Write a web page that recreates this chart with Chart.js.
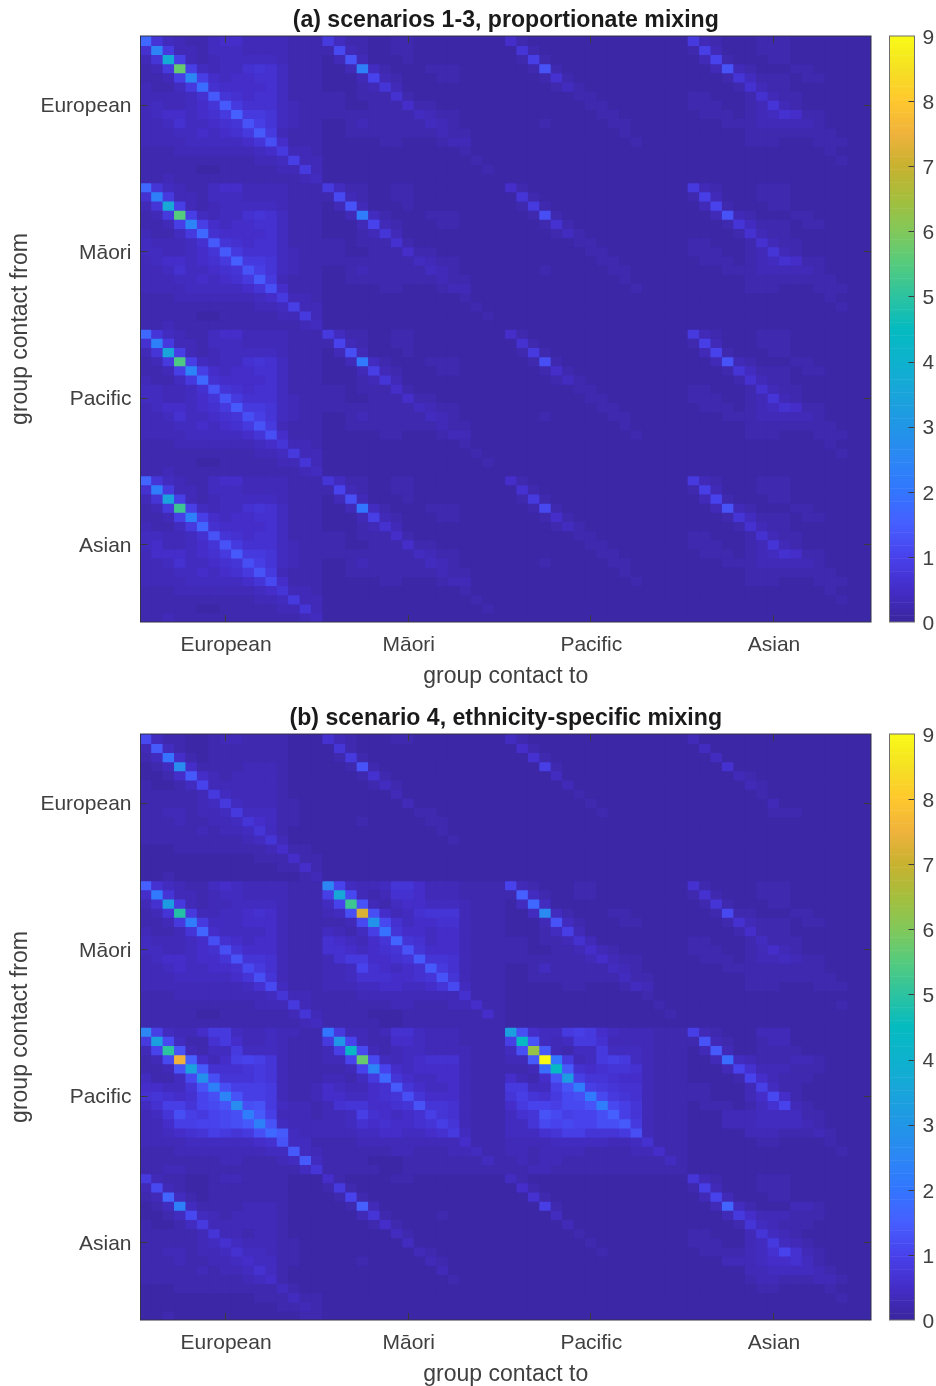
<!DOCTYPE html>
<html>
<head>
<meta charset="utf-8">
<script src="https://cdn.jsdelivr.net/npm/chart.js@4"></script>
<style>
body { margin: 0; background: #fff; }
#page { position: relative; width: 936px; height: 1386px; overflow: hidden; }
.box { position: absolute; }
canvas { filter: blur(0.4px); }
</style>
</head>
<body>
<div id="page">
    <div class="box" style="left:0;top:0;width:880px;height:693px"><canvas id="panelA"></canvas></div>
    <div class="box" style="left:880px;top:0;width:56px;height:693px"><canvas id="barA"></canvas></div>
    <div class="box" style="left:0;top:698px;width:880px;height:693px"><canvas id="panelB"></canvas></div>
    <div class="box" style="left:880px;top:698px;width:56px;height:693px"><canvas id="barB"></canvas></div>
</div>
<script>
var groupLabels = ["European", "Māori", "Pacific", "Asian"];
var groupTicks = [8, 24, 40, 56];
var colorTicks = [0, 1, 2, 3, 4, 5, 6, 7, 8, 9];

// contact rates, in tenths. 64 rows of 64 (4 groups x 16 ages)
var contactsA = [
// European from
[17,7,4,3,2,2,4,5,5,3,3,3,3,2,2,2, 8,4,2,2,1,1,2,2,1,1,1,1,1,1,1,1, 5,2,1,1,1,1,1,1,1,1,1,1,1,1,1,1, 8,3,2,1,1,1,2,2,2,1,1,1,1,1,1,1],
[6,24,8,3,3,2,4,4,4,3,3,3,3,2,2,2, 2,11,3,2,1,1,2,2,1,1,1,1,1,1,1,1, 1,7,2,1,1,1,1,1,1,1,1,1,1,1,1,1, 2,9,3,1,1,1,2,2,2,1,1,1,1,1,1,1],
[3,7,37,9,3,2,3,4,4,4,4,4,3,2,2,2, 1,3,13,3,1,1,1,2,1,1,1,1,1,1,1,1, 1,2,9,2,1,1,1,1,1,1,1,1,1,1,1,1, 1,3,10,2,1,1,1,2,2,1,1,1,1,1,1,1],
[2,3,8,57,9,4,3,4,4,6,7,6,4,2,2,2, 1,1,3,23,4,2,1,1,1,2,2,2,1,1,1,1, 1,1,2,13,2,1,1,1,1,1,1,1,1,1,1,1, 1,1,3,13,3,2,1,1,1,2,2,1,1,1,1,1],
[2,2,3,9,25,9,5,4,5,5,6,6,4,2,2,2, 1,1,1,3,10,3,2,1,1,1,2,2,1,1,1,1, 1,1,1,2,6,2,1,1,1,1,1,1,1,1,1,1, 1,1,1,2,7,4,2,2,2,1,2,2,1,1,1,1],
[3,2,2,4,8,18,6,5,5,5,5,6,4,2,2,2, 1,1,1,2,3,7,3,1,1,1,1,1,1,1,1,1, 1,1,1,1,2,4,2,1,1,1,1,1,1,1,1,1, 1,1,1,1,2,6,3,2,2,1,1,1,1,1,1,1],
[3,3,3,3,4,6,14,7,6,5,6,6,4,2,2,2, 2,2,1,2,2,2,6,2,1,1,1,1,1,1,1,1, 1,1,1,1,1,1,2,2,1,1,1,1,1,1,1,1, 2,2,1,1,1,2,6,3,2,2,1,1,1,1,1,1],
[3,4,3,3,4,5,7,14,8,6,6,6,4,3,2,2, 2,2,1,1,2,2,2,5,2,2,1,1,1,1,1,1, 1,1,1,1,1,1,1,2,2,1,1,1,1,1,1,1, 2,2,2,1,1,2,3,7,3,2,1,1,1,1,1,1],
[3,4,5,5,4,5,6,8,15,8,8,7,4,3,2,2, 2,2,2,2,2,2,2,2,4,3,2,2,1,1,1,1, 1,1,1,1,1,1,1,1,2,2,1,1,1,1,1,1, 1,2,2,2,1,2,3,4,6,5,2,2,1,1,1,1],
[3,3,4,6,4,4,5,6,7,13,9,7,4,3,2,2, 1,1,2,3,2,2,2,2,2,4,3,2,1,1,1,1, 1,1,1,2,1,1,1,1,1,2,2,1,1,1,1,1, 1,1,1,2,2,2,3,3,3,3,3,2,1,1,1,1],
[3,3,3,4,4,5,4,5,6,8,14,8,3,2,2,2, 1,1,2,2,2,2,2,2,2,2,3,2,2,1,1,1, 1,1,1,1,1,1,1,1,1,1,2,1,1,1,1,1, 1,1,1,1,1,2,2,2,2,2,2,2,2,1,1,1],
[3,3,3,3,4,4,4,4,4,5,7,12,5,2,2,2, 1,1,1,1,1,2,2,1,1,1,2,3,3,1,1,1, 1,1,1,1,1,1,1,1,1,1,1,2,1,1,1,1, 1,1,1,1,1,2,2,2,1,1,1,2,2,2,1,1],
[2,2,2,3,3,3,3,3,3,3,4,5,8,3,3,2, 1,1,1,1,1,1,1,1,1,1,1,1,2,1,1,1, 1,1,1,1,1,1,1,1,1,1,1,1,1,1,1,1, 1,1,1,1,1,1,1,1,1,1,1,1,2,1,1,1],
[2,2,2,2,2,2,2,2,2,2,3,3,4,9,3,3, 1,1,1,1,1,1,1,1,1,1,1,1,1,2,1,1, 1,1,1,1,1,1,1,1,1,1,1,1,1,1,1,1, 1,1,1,1,1,1,1,1,1,1,1,1,1,2,1,1],
[2,2,2,2,2,1,1,2,2,2,2,2,3,3,8,3, 1,1,1,1,1,1,1,1,1,1,1,1,1,1,2,1, 1,1,1,1,1,1,1,1,1,1,1,1,1,1,1,1, 1,1,1,1,1,1,1,1,1,1,1,1,1,1,1,1],
[2,2,3,2,2,2,2,2,2,2,2,2,2,2,3,4, 1,1,1,1,1,1,1,1,1,1,1,1,1,1,1,1, 1,1,1,1,1,1,1,1,1,1,1,1,1,1,1,1, 1,1,1,1,1,1,1,1,1,1,1,1,1,1,1,1],
// Maori from
[17,7,4,3,2,2,4,5,5,3,3,3,3,2,2,2, 8,4,2,2,1,1,2,2,1,1,1,1,1,1,1,1, 5,2,1,1,1,1,1,1,1,1,1,1,1,1,1,1, 8,3,2,1,1,1,2,2,2,1,1,1,1,1,1,1],
[6,23,8,3,3,2,4,4,4,3,3,3,3,2,2,2, 2,11,3,2,1,1,2,2,1,1,1,1,1,1,1,1, 1,7,2,1,1,1,1,1,1,1,1,1,1,1,1,1, 2,9,3,1,1,1,2,2,2,1,1,1,1,1,1,1],
[3,7,36,9,3,2,3,4,4,4,4,4,3,2,2,2, 1,3,13,3,1,1,1,2,1,1,1,1,1,1,1,1, 1,2,8,2,1,1,1,1,1,1,1,1,1,1,1,1, 1,3,10,2,1,1,1,2,2,1,1,1,1,1,1,1],
[2,3,8,55,9,4,3,4,4,6,7,6,4,2,2,2, 1,1,3,22,4,2,1,1,1,2,2,2,1,1,1,1, 1,1,2,12,2,1,1,1,1,1,1,1,1,1,1,1, 1,1,3,13,3,2,1,1,1,2,2,1,1,1,1,1],
[2,2,3,9,24,9,5,4,5,5,6,6,4,2,2,2, 1,1,1,3,10,3,2,1,1,1,2,2,1,1,1,1, 1,1,1,2,6,2,1,1,1,1,1,1,1,1,1,1, 1,1,1,2,7,4,2,2,2,1,2,2,1,1,1,1],
[3,2,2,4,8,17,6,5,5,5,5,6,4,2,2,2, 1,1,1,2,3,7,3,1,1,1,1,1,1,1,1,1, 1,1,1,1,2,4,2,1,1,1,1,1,1,1,1,1, 1,1,1,1,2,6,3,2,2,1,1,1,1,1,1,1],
[4,3,3,3,4,6,14,7,6,5,6,6,4,2,2,2, 2,2,1,2,2,2,6,2,1,1,1,1,1,1,1,1, 1,1,1,1,1,1,2,2,1,1,1,1,1,1,1,1, 2,2,1,1,1,2,6,3,2,2,1,1,1,1,1,1],
[4,4,3,3,4,5,7,14,8,6,6,6,4,3,2,2, 2,2,1,1,2,2,2,5,2,2,1,1,1,1,1,1, 1,1,1,1,1,1,1,2,2,1,1,1,1,1,1,1, 2,2,2,1,1,2,3,7,3,2,1,1,1,1,1,1],
[3,4,5,5,4,5,6,8,15,8,8,7,4,3,2,2, 2,2,2,2,2,2,2,2,4,3,2,2,1,1,1,1, 1,1,1,1,1,1,1,1,2,2,1,1,1,1,1,1, 1,2,2,2,1,2,3,4,6,5,2,2,1,1,1,1],
[3,3,4,6,4,4,5,6,7,13,9,7,4,3,2,2, 1,1,2,3,2,2,2,2,2,4,3,2,1,1,1,1, 1,1,1,2,1,1,1,1,1,2,2,1,1,1,1,1, 1,1,1,2,2,2,3,3,3,3,3,2,1,1,1,1],
[3,3,3,4,4,5,4,5,6,8,14,8,3,2,2,2, 1,1,2,2,2,2,2,2,2,2,3,2,2,1,1,1, 1,1,1,1,1,1,1,1,1,1,2,1,1,1,1,1, 1,1,1,1,1,2,2,2,2,2,2,2,2,1,1,1],
[3,3,3,3,4,4,4,4,4,5,7,12,5,2,2,2, 1,1,1,1,1,2,2,1,1,1,2,3,3,1,1,1, 1,1,1,1,1,1,1,1,1,1,1,2,1,1,1,1, 1,1,1,1,1,2,2,2,1,1,1,2,2,2,1,1],
[2,2,2,3,3,3,3,3,3,3,4,5,8,3,3,2, 1,1,1,1,1,1,1,1,1,1,1,1,2,1,1,1, 1,1,1,1,1,1,1,1,1,1,1,1,1,1,1,1, 1,1,1,1,1,1,1,1,1,1,1,1,2,1,1,1],
[2,2,2,2,2,2,2,2,2,2,3,3,4,9,3,3, 1,1,1,1,1,1,1,1,1,1,1,1,1,2,1,1, 1,1,1,1,1,1,1,1,1,1,1,1,1,1,1,1, 1,1,1,1,1,1,1,1,1,1,1,1,1,2,1,1],
[2,2,2,2,2,1,1,2,2,2,2,2,3,3,8,3, 1,1,1,1,1,1,1,1,1,1,1,1,1,1,2,1, 1,1,1,1,1,1,1,1,1,1,1,1,1,1,1,1, 1,1,1,1,1,1,1,1,1,1,1,1,1,1,1,1],
[2,2,3,2,2,2,2,2,2,2,2,2,2,2,3,4, 1,1,1,1,1,1,1,1,1,1,1,1,1,1,1,1, 1,1,1,1,1,1,1,1,1,1,1,1,1,1,1,1, 1,1,1,1,1,1,1,1,1,1,1,1,1,1,1,1],
// Pacific from
[17,7,4,3,2,2,4,5,5,3,3,3,3,2,2,2, 8,4,2,2,1,1,2,2,1,1,1,1,1,1,1,1, 5,2,1,1,1,1,1,1,1,1,1,1,1,1,1,1, 8,3,2,1,1,1,2,2,2,1,1,1,1,1,1,1],
[6,23,8,3,3,2,4,4,4,3,3,3,3,2,2,2, 2,10,3,2,1,1,2,2,1,1,1,1,1,1,1,1, 1,6,2,1,1,1,1,1,1,1,1,1,1,1,1,1, 2,9,3,1,1,1,2,2,2,1,1,1,1,1,1,1],
[3,7,35,9,3,2,3,4,4,4,4,4,3,2,2,2, 1,3,12,3,1,1,1,2,1,1,1,1,1,1,1,1, 1,2,8,2,1,1,1,1,1,1,1,1,1,1,1,1, 1,3,10,2,1,1,1,2,2,1,1,1,1,1,1,1],
[2,3,8,54,9,4,3,4,4,6,7,6,4,2,2,2, 1,1,3,21,4,2,1,1,1,2,2,2,1,1,1,1, 1,1,2,12,2,1,1,1,1,1,1,1,1,1,1,1, 1,1,3,13,3,2,1,1,1,2,2,1,1,1,1,1],
[2,2,3,9,24,9,5,4,5,5,6,6,4,2,2,2, 1,1,1,3,9,3,2,1,1,1,2,2,1,1,1,1, 1,1,1,2,5,2,1,1,1,1,1,1,1,1,1,1, 1,1,1,2,7,4,2,2,2,1,2,2,1,1,1,1],
[3,2,2,4,8,17,6,5,5,5,5,6,4,2,2,2, 1,1,1,2,3,7,3,1,1,1,1,1,1,1,1,1, 1,1,1,1,2,4,2,1,1,1,1,1,1,1,1,1, 1,1,1,1,2,6,3,2,2,1,1,1,1,1,1,1],
[4,4,3,3,4,6,13,7,6,5,6,6,4,2,2,2, 2,2,1,2,2,2,5,2,1,1,1,1,1,1,1,1, 1,1,1,1,1,1,2,2,1,1,1,1,1,1,1,1, 2,2,1,1,1,2,6,3,2,2,1,1,1,1,1,1],
[4,4,3,3,4,5,7,13,8,6,6,6,4,3,2,2, 2,2,1,1,2,2,2,5,2,2,1,1,1,1,1,1, 1,1,1,1,1,1,1,2,2,1,1,1,1,1,1,1, 2,2,2,1,1,2,3,7,3,2,1,1,1,1,1,1],
[3,4,5,5,4,5,6,8,14,8,8,7,4,3,2,2, 2,2,2,2,2,2,2,2,4,3,2,2,1,1,1,1, 1,1,1,1,1,1,1,1,2,2,1,1,1,1,1,1, 1,2,2,2,1,2,3,4,6,5,2,2,1,1,1,1],
[3,3,4,6,4,4,5,6,7,12,9,7,4,3,2,2, 1,1,2,3,2,2,2,2,2,4,3,2,1,1,1,1, 1,1,1,2,1,1,1,1,1,2,2,1,1,1,1,1, 1,1,1,2,2,2,3,3,3,3,3,2,1,1,1,1],
[3,3,3,4,4,5,4,5,6,8,13,8,3,2,2,2, 1,1,2,2,2,2,2,2,2,2,3,2,2,1,1,1, 1,1,1,1,1,1,1,1,1,1,2,1,1,1,1,1, 1,1,1,1,1,2,2,2,2,2,2,2,2,1,1,1],
[3,3,3,3,4,4,4,4,4,5,7,12,5,2,2,2, 1,1,1,1,1,2,2,1,1,1,2,3,3,1,1,1, 1,1,1,1,1,1,1,1,1,1,1,2,1,1,1,1, 1,1,1,1,1,2,2,2,1,1,1,2,2,2,1,1],
[2,2,2,3,3,3,3,3,3,3,4,5,7,3,3,2, 1,1,1,1,1,1,1,1,1,1,1,1,2,1,1,1, 1,1,1,1,1,1,1,1,1,1,1,1,1,1,1,1, 1,1,1,1,1,1,1,1,1,1,1,1,2,1,1,1],
[2,2,2,2,2,2,2,2,2,2,3,3,4,8,3,3, 1,1,1,1,1,1,1,1,1,1,1,1,1,2,1,1, 1,1,1,1,1,1,1,1,1,1,1,1,1,1,1,1, 1,1,1,1,1,1,1,1,1,1,1,1,1,2,1,1],
[2,2,2,2,2,1,1,2,2,2,2,2,3,3,7,3, 1,1,1,1,1,1,1,1,1,1,1,1,1,1,2,1, 1,1,1,1,1,1,1,1,1,1,1,1,1,1,1,1, 1,1,1,1,1,1,1,1,1,1,1,1,1,1,1,1],
[2,2,3,2,2,2,2,2,2,2,2,2,2,2,3,4, 1,1,1,1,1,1,1,1,1,1,1,1,1,1,1,1, 1,1,1,1,1,1,1,1,1,1,1,1,1,1,1,1, 1,1,1,1,1,1,1,1,1,1,1,1,1,1,1,1],
// Asian from
[16,7,4,3,2,2,4,5,5,3,3,3,3,2,2,2, 7,4,2,2,1,1,2,2,1,1,1,1,1,1,1,1, 5,2,1,1,1,1,1,1,1,1,1,1,1,1,1,1, 8,3,2,1,1,1,2,2,2,1,1,1,1,1,1,1],
[6,22,8,3,3,2,4,4,4,3,3,3,3,2,2,2, 2,10,3,2,1,1,2,2,1,1,1,1,1,1,1,1, 1,6,2,1,1,1,1,1,1,1,1,1,1,1,1,1, 2,9,3,1,1,1,2,2,2,1,1,1,1,1,1,1],
[3,7,34,9,3,2,3,4,4,4,4,4,3,2,2,2, 1,3,12,3,1,1,1,2,1,1,1,1,1,1,1,1, 1,2,8,2,1,1,1,1,1,1,1,1,1,1,1,1, 1,3,10,2,1,1,1,2,2,1,1,1,1,1,1,1],
[2,3,8,52,9,4,3,4,4,6,7,6,4,2,2,2, 1,1,3,20,4,2,1,1,1,2,2,2,1,1,1,1, 1,1,2,11,2,1,1,1,1,1,1,1,1,1,1,1, 1,1,3,13,3,2,1,1,1,2,2,1,1,1,1,1],
[2,2,3,9,23,9,5,4,5,5,6,6,4,2,2,2, 1,1,1,3,9,3,2,1,1,1,2,2,1,1,1,1, 1,1,1,2,5,2,1,1,1,1,1,1,1,1,1,1, 1,1,1,2,7,4,2,2,2,1,2,2,1,1,1,1],
[3,2,2,4,8,16,6,5,5,5,5,6,4,2,2,2, 1,1,1,2,3,6,3,1,1,1,1,1,1,1,1,1, 1,1,1,1,2,4,2,1,1,1,1,1,1,1,1,1, 1,1,1,1,2,6,3,2,2,1,1,1,1,1,1,1],
[4,4,3,3,4,6,13,7,6,5,6,6,4,2,2,2, 2,2,1,2,2,2,5,2,1,1,1,1,1,1,1,1, 1,1,1,1,1,1,2,2,1,1,1,1,1,1,1,1, 2,2,1,1,1,2,6,3,2,2,1,1,1,1,1,1],
[4,5,3,3,4,5,7,13,8,6,6,6,4,3,2,2, 2,2,1,1,2,2,2,5,2,2,1,1,1,1,1,1, 1,1,1,1,1,1,1,2,2,1,1,1,1,1,1,1, 2,2,2,1,1,2,3,7,3,2,1,1,1,1,1,1],
[3,5,5,5,4,5,6,8,14,8,8,7,4,3,2,2, 2,2,2,2,2,2,2,2,4,3,2,2,1,1,1,1, 1,1,1,1,1,1,1,1,2,2,1,1,1,1,1,1, 1,2,2,2,1,2,3,4,6,5,2,2,1,1,1,1],
[3,3,4,6,4,4,5,6,7,12,9,7,4,3,2,2, 1,1,2,3,2,2,2,2,2,4,3,2,1,1,1,1, 1,1,1,2,1,1,1,1,1,2,2,1,1,1,1,1, 1,1,1,2,2,2,3,3,3,3,3,2,1,1,1,1],
[3,3,3,4,4,5,4,5,6,8,13,8,3,2,2,2, 1,1,2,2,2,2,2,2,2,2,3,2,2,1,1,1, 1,1,1,1,1,1,1,1,1,1,2,1,1,1,1,1, 1,1,1,1,1,2,2,2,2,2,2,2,2,1,1,1],
[3,3,3,3,4,4,4,4,4,5,7,11,5,2,2,2, 1,1,1,1,1,2,2,1,1,1,2,3,3,1,1,1, 1,1,1,1,1,1,1,1,1,1,1,2,1,1,1,1, 1,1,1,1,1,2,2,2,1,1,1,2,2,2,1,1],
[2,2,2,3,3,3,3,3,3,3,4,5,7,3,3,2, 1,1,1,1,1,1,1,1,1,1,1,1,2,1,1,1, 1,1,1,1,1,1,1,1,1,1,1,1,1,1,1,1, 1,1,1,1,1,1,1,1,1,1,1,1,2,1,1,1],
[2,2,2,2,2,2,2,2,2,2,3,3,4,8,3,3, 1,1,1,1,1,1,1,1,1,1,1,1,1,2,1,1, 1,1,1,1,1,1,1,1,1,1,1,1,1,1,1,1, 1,1,1,1,1,1,1,1,1,1,1,1,1,2,1,1],
[2,2,2,2,2,1,1,2,2,2,2,2,3,3,7,3, 1,1,1,1,1,1,1,1,1,1,1,1,1,1,2,1, 1,1,1,1,1,1,1,1,1,1,1,1,1,1,1,1, 1,1,1,1,1,1,1,1,1,1,1,1,1,1,1,1],
[2,2,3,2,2,2,2,2,2,2,2,2,2,2,3,4, 1,1,1,1,1,1,1,1,1,1,1,1,1,1,1,1, 1,1,1,1,1,1,1,1,1,1,1,1,1,1,1,1, 1,1,1,1,1,1,1,1,1,1,1,1,1,1,1,1]
];

var contactsB = [
// European from
[11,4,2,2,1,1,2,3,3,2,2,2,2,1,1,1, 6,3,2,1,1,1,2,2,1,1,1,1,1,1,1,1, 4,2,1,1,1,1,1,1,1,1,1,1,1,1,1,1, 3,1,1,1,1,1,1,1,1,1,1,1,1,1,1,1],
[3,14,4,2,1,1,2,2,2,2,2,2,2,1,1,1, 1,7,2,1,1,1,1,1,1,1,1,1,1,1,1,1, 1,5,2,1,1,1,1,1,1,1,1,1,1,1,1,1, 1,4,1,1,1,1,1,1,1,1,1,1,1,1,1,1],
[2,4,19,5,2,1,2,2,2,2,2,2,2,1,1,1, 1,2,8,2,1,1,1,1,1,1,1,1,1,1,1,1, 1,1,6,2,1,1,1,1,1,1,1,1,1,1,1,1, 1,1,4,1,1,1,1,1,1,1,1,1,1,1,1,1],
[1,2,4,27,5,2,2,2,2,3,3,3,2,1,1,1, 1,1,2,13,2,1,1,1,1,1,1,1,1,1,1,1, 1,1,1,9,2,1,1,1,1,1,1,1,1,1,1,1, 1,1,1,6,1,1,1,1,1,1,1,1,1,1,1,1],
[1,1,2,5,14,5,3,2,3,3,3,3,2,1,1,1, 1,1,1,2,6,2,1,1,1,1,1,1,1,1,1,1, 1,1,1,1,4,1,1,1,1,1,1,1,1,1,1,1, 1,1,1,1,3,2,1,1,1,1,1,1,1,1,1,1],
[2,1,1,2,4,10,3,3,3,3,3,3,2,1,1,1, 1,1,1,1,2,4,2,1,1,1,1,1,1,1,1,1, 1,1,1,1,1,3,1,1,1,1,1,1,1,1,1,1, 1,1,1,1,1,3,2,1,1,1,1,1,1,1,1,1],
[2,2,2,2,2,3,8,4,3,3,3,3,2,1,1,1, 1,1,1,1,1,1,3,1,1,1,1,1,1,1,1,1, 1,1,1,1,1,1,2,1,1,1,1,1,1,1,1,1, 1,1,1,1,1,1,2,1,1,1,1,1,1,1,1,1],
[2,2,2,2,2,3,4,8,4,3,3,3,2,2,1,1, 1,1,1,1,1,1,1,3,1,1,1,1,1,1,1,1, 1,1,1,1,1,1,1,2,1,1,1,1,1,1,1,1, 1,1,1,1,1,1,1,3,1,1,1,1,1,1,1,1],
[2,2,3,3,2,3,3,4,8,4,4,4,2,2,1,1, 1,1,1,1,1,1,1,1,2,2,1,1,1,1,1,1, 1,1,1,1,1,1,1,1,2,1,1,1,1,1,1,1, 1,1,1,1,1,1,1,2,2,2,1,1,1,1,1,1],
[2,2,2,3,2,2,3,3,4,7,5,4,2,2,1,1, 1,1,1,2,1,1,1,1,1,2,2,1,1,1,1,1, 1,1,1,1,1,1,1,1,1,1,1,1,1,1,1,1, 1,1,1,1,1,1,1,1,1,1,1,1,1,1,1,1],
[2,2,2,2,2,3,2,3,3,4,7,4,2,1,1,1, 1,1,1,1,1,1,1,1,1,1,2,1,1,1,1,1, 1,1,1,1,1,1,1,1,1,1,1,1,1,1,1,1, 1,1,1,1,1,1,1,1,1,1,1,1,1,1,1,1],
[2,2,2,2,2,2,2,2,2,3,4,7,3,1,1,1, 1,1,1,1,1,1,1,1,1,1,1,2,1,1,1,1, 1,1,1,1,1,1,1,1,1,1,1,1,1,1,1,1, 1,1,1,1,1,1,1,1,1,1,1,1,1,1,1,1],
[1,1,1,2,2,2,2,2,2,2,2,3,5,2,2,1, 1,1,1,1,1,1,1,1,1,1,1,1,1,1,1,1, 1,1,1,1,1,1,1,1,1,1,1,1,1,1,1,1, 1,1,1,1,1,1,1,1,1,1,1,1,1,1,1,1],
[1,1,1,1,1,1,1,1,1,1,2,2,2,5,2,2, 1,1,1,1,1,1,1,1,1,1,1,1,1,1,1,1, 1,1,1,1,1,1,1,1,1,1,1,1,1,1,1,1, 1,1,1,1,1,1,1,1,1,1,1,1,1,1,1,1],
[1,1,1,1,1,1,1,1,1,1,1,1,2,2,5,2, 1,1,1,1,1,1,1,1,1,1,1,1,1,1,1,1, 1,1,1,1,1,1,1,1,1,1,1,1,1,1,1,1, 1,1,1,1,1,1,1,1,1,1,1,1,1,1,1,1],
[1,1,2,1,1,1,1,1,1,1,1,1,1,1,2,3, 1,1,1,1,1,1,1,1,1,1,1,1,1,1,1,1, 1,1,1,1,1,1,1,1,1,1,1,1,1,1,1,1, 1,1,1,1,1,1,1,1,1,1,1,1,1,1,1,1],
// Maori from
[15,6,4,3,2,2,4,5,4,3,3,3,3,2,2,2, 25,10,4,3,3,4,7,7,5,3,3,3,2,2,2,2, 10,3,2,1,1,1,2,2,1,1,1,1,1,1,1,1, 6,2,1,1,1,1,2,2,2,1,1,1,1,1,1,1],
[5,21,7,3,3,2,3,4,4,3,3,3,3,2,2,2, 9,36,11,3,2,3,6,6,5,3,3,3,2,2,2,2, 2,15,4,2,1,1,2,2,1,1,1,1,1,1,1,1, 2,6,2,1,1,1,2,2,2,1,1,1,1,1,1,1],
[3,6,32,8,3,2,3,3,4,4,4,4,3,2,2,2, 4,10,52,13,3,2,4,5,5,4,4,4,3,2,2,2, 1,4,17,4,1,1,1,1,1,1,1,1,1,1,1,1, 1,2,7,2,1,1,1,2,2,1,1,1,1,1,1,1],
[2,3,7,49,8,3,3,4,4,5,6,5,3,2,2,2, 3,4,12,72,12,5,3,4,6,7,7,7,3,2,2,2, 1,1,4,26,4,2,1,1,1,2,2,1,1,1,1,1, 1,1,2,11,2,2,1,1,1,2,2,1,1,1,1,1],
[2,2,3,8,22,8,4,4,4,5,5,5,3,2,2,2, 2,2,3,11,29,11,6,4,5,5,6,6,3,2,2,2, 1,1,1,3,13,4,2,1,1,1,2,2,1,1,1,1, 1,1,1,2,6,3,2,2,2,1,2,2,1,1,1,1],
[3,2,2,3,7,16,5,4,4,4,4,5,3,2,2,2, 4,3,2,4,9,19,7,5,5,4,5,5,3,2,2,2, 1,1,1,2,4,9,3,1,1,1,1,1,1,1,1,1, 1,1,1,1,2,5,2,2,2,1,1,1,1,1,1,1],
[4,3,3,3,4,5,12,6,5,4,5,5,3,2,2,2, 6,5,4,3,5,7,16,7,6,4,5,5,3,2,2,2, 2,2,1,2,2,3,6,3,1,1,1,1,1,1,1,1, 2,2,1,1,1,2,4,2,2,2,1,1,1,1,1,1],
[4,4,3,3,4,5,6,12,7,5,5,5,3,2,2,2, 6,6,5,4,5,6,7,13,7,5,5,5,3,2,2,2, 2,2,1,1,2,2,3,5,3,2,1,1,1,1,1,1, 2,2,2,1,1,2,3,5,3,2,1,1,1,1,1,1],
[3,4,5,5,4,5,5,7,13,7,7,6,3,2,2,2, 3,6,8,8,5,5,6,7,14,7,7,6,3,2,2,2, 2,2,2,2,2,2,2,3,5,3,2,2,1,1,1,1, 1,2,2,2,1,2,3,3,4,3,2,2,1,1,1,1],
[3,3,4,5,4,4,5,5,6,11,8,6,3,2,2,2, 3,3,4,10,6,5,4,5,6,14,8,6,3,2,2,2, 1,1,2,4,2,2,2,2,2,4,3,2,1,1,1,1, 1,1,1,2,2,2,2,2,2,2,2,2,1,1,1,1],
[3,3,3,4,4,4,4,4,5,7,12,7,3,2,2,2, 3,3,4,6,6,6,5,5,6,7,13,7,3,2,2,2, 1,1,2,2,2,2,2,2,2,2,4,2,2,1,1,1, 1,1,1,1,1,2,2,2,2,2,2,2,2,1,1,1],
[3,3,3,3,3,3,3,3,3,4,6,11,4,2,2,2, 3,3,3,4,4,5,5,4,4,5,7,11,4,2,2,2, 1,1,1,1,1,2,2,1,1,1,2,4,3,1,1,1, 1,1,1,1,1,2,2,2,1,1,1,2,2,2,1,1],
[2,2,2,3,3,3,3,3,3,3,3,4,7,3,3,2, 2,2,2,3,3,3,3,3,3,3,3,3,6,2,2,2, 1,1,1,1,1,1,1,1,1,1,1,1,2,1,1,1, 1,1,1,1,1,1,1,1,1,1,1,1,1,1,1,1],
[2,2,2,2,2,2,2,2,2,2,3,3,3,8,3,2, 2,2,2,2,2,2,3,3,2,2,2,3,3,5,2,2, 1,1,1,1,1,1,1,1,1,1,1,1,1,2,1,1, 1,1,1,1,1,1,1,1,1,1,1,1,1,2,1,1],
[2,2,2,2,2,1,1,2,2,2,2,2,2,3,7,3, 2,2,2,2,1,1,1,2,2,2,2,2,2,2,5,2, 1,1,1,1,1,1,1,1,1,1,1,1,1,1,2,1, 1,1,1,1,1,1,1,1,1,1,1,1,1,1,1,1],
[2,2,2,2,2,2,2,2,2,2,2,2,2,2,3,4, 2,2,2,2,2,1,1,2,2,2,2,2,2,2,2,2, 1,1,1,1,1,1,1,1,1,1,1,1,1,1,1,1, 1,1,1,1,1,1,1,1,1,1,1,1,1,1,1,1],
// Pacific from
[25,9,4,3,3,5,8,8,4,3,3,4,3,3,2,2, 20,8,3,3,2,3,6,6,4,3,3,3,2,2,2,2, 33,12,5,4,4,8,9,8,5,4,3,3,3,2,2,2, 9,3,2,1,1,1,3,3,3,1,1,1,1,1,1,1],
[8,33,11,4,2,2,6,8,5,3,3,4,3,2,2,2, 8,30,10,3,2,2,5,5,4,3,3,3,2,2,2,2, 9,44,13,4,3,4,8,8,6,3,3,3,3,2,2,2, 2,13,3,2,1,1,2,3,3,1,1,1,1,1,1,1],
[3,10,50,13,3,2,4,4,8,4,4,4,3,2,2,2, 3,9,43,11,3,2,3,4,4,3,3,3,3,2,2,2, 4,12,63,14,3,2,4,4,8,4,4,4,3,2,2,2, 1,3,14,3,1,1,2,2,2,2,1,1,1,1,1,1],
[2,3,11,75,15,5,3,5,9,10,9,7,3,2,2,2, 3,3,10,57,11,4,3,4,5,6,6,6,3,2,2,2, 3,3,14,90,20,8,3,4,8,9,8,4,3,2,2,2, 1,1,3,18,4,3,2,2,2,3,3,2,1,1,1,1],
[2,2,3,13,34,14,6,6,6,7,8,7,3,2,2,2, 2,2,3,10,24,10,5,4,5,5,5,5,3,2,2,2, 2,2,3,18,44,14,6,5,6,7,7,6,3,2,2,2, 1,1,1,3,10,6,3,3,3,2,2,2,1,1,1,1],
[4,2,2,4,11,28,12,7,7,7,8,7,3,2,2,2, 3,3,2,4,8,17,7,5,4,4,5,5,3,2,2,2, 5,3,2,5,13,32,9,7,7,6,5,5,3,2,2,2, 1,1,1,1,2,10,5,3,2,2,2,1,1,1,1,1],
[5,5,4,4,7,13,23,12,9,9,9,8,3,2,2,3, 5,4,3,3,5,6,14,7,5,4,4,5,3,2,2,2, 8,8,4,4,9,13,22,9,8,7,6,6,3,2,2,2, 2,2,1,1,1,3,9,4,2,2,1,1,1,1,1,1],
[6,7,6,5,6,10,12,24,13,9,9,8,3,2,2,3, 5,5,4,4,5,6,7,12,7,5,5,5,3,2,2,2, 7,9,7,6,8,11,12,21,11,8,7,6,3,2,2,2, 2,2,1,1,1,3,5,11,5,2,1,1,1,1,1,1],
[4,6,9,9,7,10,11,13,27,12,13,8,4,3,3,2, 3,6,7,7,5,5,6,7,13,7,7,6,3,2,2,2, 5,8,10,10,9,11,11,13,22,11,9,7,3,2,2,2, 1,2,2,2,1,2,4,6,10,3,2,1,1,1,1,1],
[3,4,7,12,9,8,10,11,12,22,14,9,3,3,3,2, 3,3,4,9,6,5,4,5,6,9,7,6,3,2,2,2, 4,6,7,13,11,9,10,10,12,15,9,7,3,2,2,2, 1,1,1,3,3,3,4,4,4,4,2,2,1,1,1,1],
[3,3,5,9,9,10,10,11,12,14,23,13,4,3,3,3, 3,3,4,6,5,6,5,5,6,7,9,7,3,2,2,2, 4,4,7,11,10,11,10,10,12,12,14,8,3,2,2,2, 1,1,1,3,3,3,4,4,4,4,3,2,1,1,1,1],
[3,3,4,5,6,7,9,8,7,8,12,17,14,4,3,3, 3,3,3,4,4,5,5,4,4,5,6,8,4,2,2,2, 4,4,4,6,7,9,9,7,7,7,8,12,3,2,2,2, 1,1,1,1,1,3,3,3,2,2,2,3,2,1,1,1],
[3,3,3,3,4,4,4,4,4,4,5,6,13,4,4,2, 2,2,2,3,3,3,3,3,3,3,3,3,5,2,2,2, 3,3,3,3,4,4,4,4,4,3,3,4,6,2,2,2, 1,1,1,1,1,1,2,2,1,1,1,1,2,1,1,1],
[2,2,2,3,3,3,3,3,3,3,3,4,4,14,4,3, 2,2,2,2,2,2,3,3,2,2,2,3,3,4,2,2, 3,3,2,3,3,3,3,2,2,2,2,3,3,5,2,2, 1,1,1,1,1,1,1,1,1,1,1,1,1,2,1,1],
[2,2,2,2,2,2,2,3,3,2,2,2,3,4,14,4, 2,2,2,2,1,1,1,2,2,2,2,2,2,2,4,2, 2,3,2,3,3,2,2,2,2,2,2,2,2,2,4,2, 1,1,1,1,1,1,1,1,1,1,1,1,1,1,1,1],
[2,2,3,3,2,2,2,2,2,2,2,2,2,2,4,7, 2,2,2,2,2,1,1,2,2,2,2,2,2,2,2,2, 2,2,3,3,2,2,2,2,2,2,2,2,2,2,2,2, 1,1,1,1,1,1,1,1,1,1,1,1,1,1,1,1],
// Asian from
[8,3,2,2,1,1,2,3,3,2,2,2,2,1,1,1, 5,2,1,1,1,1,2,2,1,1,1,1,1,1,1,1, 4,2,1,1,1,1,1,1,1,1,1,1,1,1,1,1, 7,3,2,1,1,1,2,2,2,1,1,1,1,1,1,1],
[3,11,3,2,1,1,2,2,2,2,2,2,2,1,1,1, 2,8,2,1,1,1,1,1,1,1,1,1,1,1,1,1, 1,5,2,1,1,1,1,1,1,1,1,1,1,1,1,1, 2,9,3,1,1,1,2,2,2,1,1,1,1,1,1,1],
[2,3,16,4,2,1,2,2,2,2,2,2,2,1,1,1, 1,2,10,2,1,1,1,1,1,1,1,1,1,1,1,1, 1,1,6,2,1,1,1,1,1,1,1,1,1,1,1,1, 1,3,10,3,1,1,1,2,2,1,1,1,1,1,1,1],
[1,2,4,23,4,2,2,2,2,3,3,3,2,1,1,1, 1,1,2,15,3,1,1,1,1,1,1,1,1,1,1,1, 1,1,1,9,2,1,1,1,1,1,1,1,1,1,1,1, 1,1,3,16,4,2,1,1,1,3,3,2,1,1,1,1],
[1,1,2,4,11,4,3,2,3,3,3,3,2,1,1,1, 1,1,1,3,7,2,1,1,1,1,2,1,1,1,1,1, 1,1,1,1,4,1,1,1,1,1,1,1,1,1,1,1, 1,1,1,3,8,5,3,3,3,2,2,2,1,1,1,1],
[2,1,1,2,4,8,3,3,3,3,3,3,2,1,1,1, 1,1,1,1,2,5,2,1,1,1,1,1,1,1,1,1, 1,1,1,1,1,3,1,1,1,1,1,1,1,1,1,1, 1,1,1,1,2,7,4,3,2,2,2,1,1,1,1,1],
[2,2,2,2,2,3,7,3,3,2,3,3,2,1,1,1, 1,1,1,1,1,1,4,2,1,1,1,1,1,1,1,1, 1,1,1,1,1,1,2,1,1,1,1,1,1,1,1,1, 2,2,1,1,1,3,7,4,3,2,1,1,1,1,1,1],
[2,2,2,2,2,3,4,6,4,3,3,3,2,2,1,1, 1,1,1,1,1,1,1,4,1,1,1,1,1,1,1,1, 1,1,1,1,1,1,1,2,1,1,1,1,1,1,1,1, 2,2,2,1,1,3,4,8,4,3,2,1,1,1,1,1],
[2,2,3,3,2,3,3,4,6,4,4,3,2,2,1,1, 1,1,1,1,1,1,1,1,3,2,1,1,1,1,1,1, 1,1,1,1,1,1,1,1,2,1,1,1,1,1,1,1, 1,2,2,2,2,3,4,6,10,6,3,2,1,1,1,1],
[2,2,2,3,2,2,3,3,4,5,4,4,2,2,1,1, 1,1,1,2,1,1,1,1,1,3,2,1,1,1,1,1, 1,1,1,1,1,1,1,1,1,1,1,1,1,1,1,1, 1,1,1,3,3,3,4,5,5,6,4,2,1,1,1,1],
[2,2,2,2,2,3,2,3,3,4,6,4,2,1,1,1, 1,1,1,1,1,1,1,1,1,1,3,1,1,1,1,1, 1,1,1,1,1,1,1,1,1,1,1,1,1,1,1,1, 1,1,1,1,1,3,3,4,4,4,4,3,2,1,1,1],
[2,2,2,2,2,2,2,2,2,3,4,5,2,1,1,1, 1,1,1,1,1,1,1,1,1,1,1,2,1,1,1,1, 1,1,1,1,1,1,1,1,1,1,1,1,1,1,1,1, 1,1,1,1,1,2,3,3,2,2,2,3,3,2,1,1],
[1,1,1,2,2,2,2,2,2,2,2,2,4,2,1,1, 1,1,1,1,1,1,1,1,1,1,1,1,1,1,1,1, 1,1,1,1,1,1,1,1,1,1,1,1,1,1,1,1, 1,1,1,1,1,1,2,2,1,1,1,1,2,1,1,1],
[1,1,1,1,1,1,1,1,1,1,2,2,2,4,2,2, 1,1,1,1,1,1,1,1,1,1,1,1,1,1,1,1, 1,1,1,1,1,1,1,1,1,1,1,1,1,1,1,1, 1,1,1,1,1,1,1,1,1,1,1,1,1,2,1,1],
[1,1,1,1,1,1,1,1,1,1,1,1,2,2,3,2, 1,1,1,1,1,1,1,1,1,1,1,1,1,1,1,1, 1,1,1,1,1,1,1,1,1,1,1,1,1,1,1,1, 1,1,1,1,1,1,1,1,1,1,1,1,1,1,1,1],
[1,1,2,1,1,1,1,1,1,1,1,1,1,1,2,2, 1,1,1,1,1,1,1,1,1,1,1,1,1,1,1,1, 1,1,1,1,1,1,1,1,1,1,1,1,1,1,1,1, 1,1,1,1,1,1,1,1,1,1,1,1,1,1,1,1]
];

// parula, one stop per half unit of the 0-9 colour bar
var parula = [[58,38,158],[68,45,200],[72,66,236],[70,95,255],[50,118,255],[44,135,245],[33,150,230],[25,165,218],[14,178,205],[5,187,192],[45,195,160],[85,203,125],[130,200,90],[165,190,60],[200,178,48],[240,178,60],[255,200,45],[245,225,35],[249,251,21]];

function colorFor(v) {
    var t = Math.min(v / 9, 1) * (parula.length - 1);
    var i = Math.min(Math.floor(t), parula.length - 2);
    var f = t - i;
    var c = [0, 1, 2].map(function (k) { return Math.round(parula[i][k] + (parula[i + 1][k] - parula[i][k]) * f); });
    return "rgb(" + c.join(",") + ")";
}

// ticks inside the box on both sides, the way the original axes has them
var insideTicks = {
    id: "insideTicks",
    afterDatasetsDraw: function (chart, args, opts) {
        var a = chart.chartArea, ctx = chart.ctx;
        ctx.save();
        ctx.strokeStyle = "#3a3a3a";
        ctx.lineWidth = 1;
        ctx.beginPath();
        if (!opts.barOnly) {
            groupTicks.forEach(function (t) {
                var x = Math.round(chart.scales.x.getPixelForValue(t)) - 0.5;
                ctx.moveTo(x, a.top); ctx.lineTo(x, a.top + 7);
                ctx.moveTo(x, a.bottom); ctx.lineTo(x, a.bottom - 7);
                var y = Math.round(chart.scales.y.getPixelForValue(t)) + 0.5;
                ctx.moveTo(a.left, y); ctx.lineTo(a.left + 7, y);
                ctx.moveTo(a.right, y); ctx.lineTo(a.right - 7, y);
            });
        } else {
            colorTicks.slice(1, -1).forEach(function (t) {
                var y = Math.round(chart.scales.y.getPixelForValue(t)) + 0.5;
                ctx.moveTo(a.right, y); ctx.lineTo(a.right - 6, y);
            });
        }
        ctx.stroke();
        ctx.strokeStyle = opts.barOnly ? "#6e6e6e" : "#333348";
        ctx.strokeRect(a.left, a.top, a.right - a.left, a.bottom - a.top);
        ctx.restore();
    }
};

function makePanel(id, title, rows) {
    var datasets = rows.map(function (row, r) {
        return {
            data: row.map(function (v, c) { return { x: c + 1, y: [r + 0.5, r + 1.5] }; }),
            backgroundColor: row.map(function (v) { return colorFor(v / 10); }),
            barPercentage: 1,
            categoryPercentage: 1,
            inflateAmount: 0.7,
            grouped: false
        };
    });
    new Chart(document.getElementById(id), {
        type: "bar",
        data: { datasets: datasets },
        options: {
            responsive: true,
            maintainAspectRatio: false,
            animation: false,
            layout: { padding: { left: 0, right: 9, top: 0, bottom: 0 } },
            scales: {
                x: {
                    type: "linear", min: 0.5, max: 64.5, offset: false,
                    grid: { display: false, drawTicks: false, tickLength: 0 }, border: { display: false },
                    afterBuildTicks: function (s) { s.ticks = groupTicks.map(function (t) { return { value: t }; }); },
                    afterFit: function (s) { s.height = 71; },
                    ticks: {
                        autoSkip: false, maxRotation: 0, padding: 11, color: "#404040",
                        font: { family: "'Liberation Sans'", size: 21 },
                        callback: function (v) { return groupLabels[groupTicks.indexOf(v)]; }
                    },
                    title: { display: true, text: "group contact to", color: "#404040", font: { family: "'Liberation Sans'", size: 23 }, padding: { top: 0, bottom: 3 } }
                },
                y: {
                    type: "linear", min: 0.5, max: 64.5, reverse: true,
                    grid: { display: false, drawTicks: false, tickLength: 0 }, border: { display: false },
                    afterBuildTicks: function (s) { s.ticks = groupTicks.map(function (t) { return { value: t }; }); },
                    afterFit: function (s) { s.width = 140.5; },
                    ticks: {
                        autoSkip: false, padding: 9, labelOffset: 2, color: "#404040",
                        font: { family: "'Liberation Sans'", size: 21 },
                        callback: function (v) { return groupLabels[groupTicks.indexOf(v)]; }
                    },
                    title: { display: true, text: "group contact from", color: "#404040", font: { family: "'Liberation Sans'", size: 23 }, padding: { top: 7, bottom: 0 } }
                }
            },
            plugins: {
                legend: { display: false },
                tooltip: { enabled: false },
                title: {
                    display: true, text: title, fullSize: false, color: "#1a1a1a",
                    font: { family: "'Liberation Sans'", size: 23.1, weight: "bold", lineHeight: 1.2 },
                    padding: { top: 7, bottom: 1.3 }
                },
                insideTicks: {}
            }
        },
        plugins: [insideTicks]
    });
}

function makeColorbar(id) {
    var steps = [];
    for (var i = 0; i < 360; i++) steps.push(i / 40);
    new Chart(document.getElementById(id), {
        type: "bar",
        data: {
            labels: ["c"],
            datasets: steps.map(function (s) {
                return { data: [[s, s + 0.025]], backgroundColor: colorFor(s + 0.0125), barPercentage: 1, categoryPercentage: 1, grouped: false };
            })
        },
        options: {
            responsive: true,
            maintainAspectRatio: false,
            animation: false,
            layout: { padding: { left: 9.5, right: 0, top: 36, bottom: 71 } },
            scales: {
                x: { display: false },
                y: {
                    position: "right", min: 0, max: 9,
                    grid: { display: false, drawTicks: false, tickLength: 0 }, border: { display: false },
                    afterBuildTicks: function (s) { s.ticks = colorTicks.map(function (t) { return { value: t }; }); },
                    afterFit: function (s) { s.width = 21.5; },
                    ticks: { padding: 8, labelOffset: 2, color: "#404040", font: { family: "'Liberation Sans'", size: 21 } }
                }
            },
            plugins: { legend: { display: false }, tooltip: { enabled: false }, insideTicks: { barOnly: true } }
        },
        plugins: [insideTicks]
    });
}

makePanel("panelA", "(a) scenarios 1-3, proportionate mixing", contactsA);
makeColorbar("barA");
makePanel("panelB", "(b) scenario 4, ethnicity-specific mixing", contactsB);
makeColorbar("barB");
</script>
</body>
</html>
